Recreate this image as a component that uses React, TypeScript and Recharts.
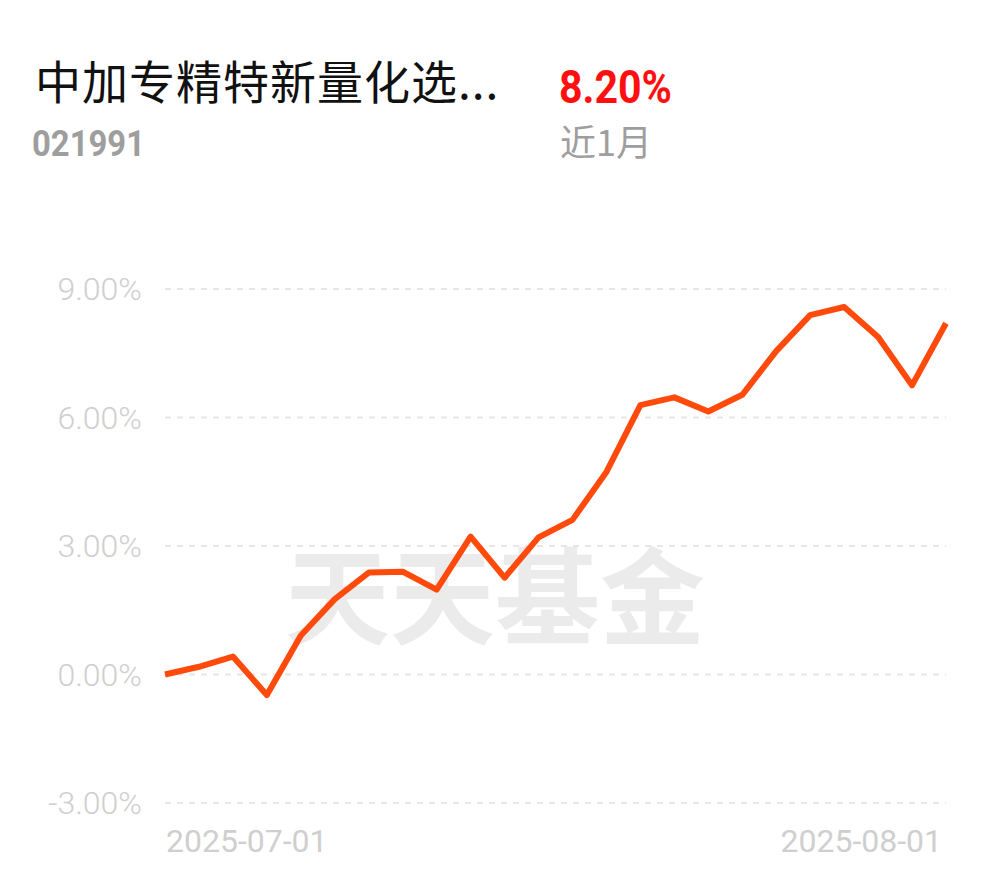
import { LineChart, Line, XAxis, YAxis, CartesianGrid } from 'recharts'

// 近1月 daily return (%) of 021991
const dates = [
  '2025-07-01', '2025-07-02', '2025-07-03', '2025-07-04', '2025-07-07', '2025-07-08',
  '2025-07-09', '2025-07-10', '2025-07-11', '2025-07-14', '2025-07-15', '2025-07-16',
  '2025-07-17', '2025-07-18', '2025-07-21', '2025-07-22', '2025-07-23', '2025-07-24',
  '2025-07-25', '2025-07-28', '2025-07-29', '2025-07-30', '2025-07-31', '2025-08-01',
]
const returns = [
  0.0, 0.18, 0.42, -0.48, 0.91, 1.76,
  2.38, 2.4, 1.98, 3.22, 2.26, 3.2,
  3.61, 4.73, 6.29, 6.47, 6.14, 6.53,
  7.55, 8.39, 8.58, 7.88, 6.75, 8.2,
]
const yTicks = [-3, 0, 3, 6, 9]
const xTicks = ['2025-07-01', '2025-08-01']

const fundName = '中加专精特新量化选...'
const fundCode = '021991'
const periodReturn = '8.20%'
const periodLabel = '近1月'

const data = dates.map((date, i) => ({ date, value: returns[i] }))

const latin = 'Roboto, "Noto Sans", sans-serif'
const cjk = '"Noto Sans CJK SC", "Noto Sans", sans-serif'

function DateTick(props: any) {
  const { x, y, payload } = props
  const first = payload.value === xTicks[0]
  return (
    <text
      x={first ? x + 1 : x - 4}
      y={y + 49}
      textAnchor={first ? 'start' : 'end'}
      fill="#cfcfcf"
      fontSize={32}
      fontFamily={latin}
      fontWeight={400}
    >
      {payload.value}
    </text>
  )
}

export default function App() {
  return (
    <div style={{ position: 'fixed', left: 0, top: 0, width: 990, height: 878, background: '#fff', overflow: 'hidden' }}>
      {/* 头部 */}
      <svg width={990} height={200} style={{ position: 'absolute', left: 0, top: 0 }}>
        <text x={35} y={99} fontSize={46} fontFamily={cjk} fill="#111" letterSpacing={1}>
          {fundName}
        </text>
        <text x={32} y={156} fontSize={36} fontFamily={latin} fontWeight={700} fill="#9e9e9e"
          textLength={113} lengthAdjust="spacingAndGlyphs">
          {fundCode}
        </text>
        <text x={559} y={103} fontSize={47} fontFamily={latin} fontWeight={700} fill="#ff1010"
          textLength={113} lengthAdjust="spacingAndGlyphs">
          {periodReturn}
        </text>
        <text x={560} y={156} fontSize={36} fontFamily={cjk} fill="#9e9e9e">
          {periodLabel}
        </text>
      </svg>

      {/* 水印 */}
      <div
        style={{
          position: 'absolute', left: 285, top: 538, fontSize: 105, lineHeight: '105px',
          fontWeight: 700, color: '#ebebeb', fontFamily: cjk, whiteSpace: 'nowrap',
        }}
      >
        天天基金
      </div>

      <div style={{ position: 'absolute', left: 0, top: 0 }}>
        <LineChart width={990} height={878} data={data} margin={{ top: 289, right: 44, bottom: 15, left: 25 }}>
          <CartesianGrid vertical={false} stroke="#e6e6e6" strokeWidth={2} strokeDasharray="6 6" />
          <XAxis
            dataKey="date"
            ticks={xTicks}
            interval={0}
            height={60}
            axisLine={false}
            tickLine={false}
            tickSize={0}
            tickMargin={0}
            tick={<DateTick />}
          />
          <YAxis
            domain={[-3, 9]}
            ticks={yTicks}
            width={140}
            axisLine={false}
            tickLine={false}
            tickSize={0}
            tickMargin={23}
            tickFormatter={(v: number) => `${v.toFixed(2)}%`}
            tick={{ fill: '#cfcfcf', fontSize: 32, fontFamily: latin, fontWeight: 300 }}
          />
          <Line
            type="linear"
            dataKey="value"
            stroke="#ff4a0b"
            strokeWidth={6}
            strokeLinejoin="round"
            dot={false}
            isAnimationActive={false}
          />
        </LineChart>
      </div>
    </div>
  )
}
